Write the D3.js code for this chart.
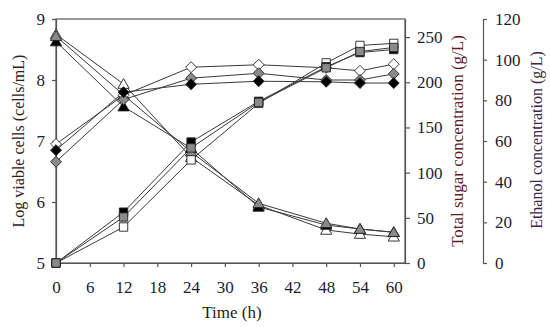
<!DOCTYPE html>
<html><head><meta charset="utf-8">
<script src="https://cdn.jsdelivr.net/npm/d3@7"></script>
<style>body{margin:0;background:#fff}svg{display:block}text{font-family:"Liberation Serif","Times New Roman",serif}</style>
</head><body><svg id="c" width="550" height="327"></svg>
<script>
const time = [0, 12, 24, 36, 48, 54, 60];
const xTicks = [0, 6, 12, 18, 24, 30, 36, 42, 48, 54, 60];
const leftTicks = [5, 6, 7, 8, 9];
const sugarTicks = [0, 50, 100, 150, 200, 250];
const ethanolTicks = [0, 20, 40, 60, 80, 100, 120];

// Log viable cells (diamonds)
const cellsBlack = [6.85, 7.80, 7.93, 7.98, 7.97, 7.95, 7.95];
const cellsGray  = [6.66, 7.68, 8.03, 8.11, 8.00, 8.00, 8.10];
const cellsWhite = [6.95, 7.75, 8.21, 8.25, 8.20, 8.15, 8.26];
// Total sugar (triangles)
const sugarBlack = [245, 173, 127, 62, 42, 37.6, 34];
const sugarGray  = [251, 186, 123, 66, 44, 37.6, 34];
const sugarWhite = [253, 198, 117, 64, 36.5, 32, 29];
// Ethanol (squares)
const ethBlack = [0, 25, 59.5, 79.5, 96.5, 103.5, 105];
const ethGray  = [0, 22.6, 56.6, 79, 96, 104, 106];
const ethWhite = [0, 17.7, 50.7, 78.5, 98.4, 107, 108];

const svg = d3.select("#c");
const L = 56, R = 405, T = 19, B = 263;
const x = d3.scaleLinear().domain([0, 62]).range([L, R]);
const yL = d3.scaleLinear().domain([5, 9]).range([B, T]);
const yS = d3.scaleLinear().domain([0, 270]).range([B, T]);
const yE = d3.scaleLinear().domain([0, 120]).range([B, T]);

const tickCol = "#1c1c34";
function styleAxis(g){
  g.selectAll("path").attr("stroke","#555").attr("stroke-width",1.2);
  g.selectAll("line").attr("stroke","#555").attr("stroke-width",1.2);
  g.selectAll("text").attr("font-size",17).attr("fill",tickCol);
}
svg.append("rect").attr("x",L).attr("y",T).attr("width",R-L).attr("height",B-T)
  .attr("fill","none").attr("stroke","#555").attr("stroke-width",1.2);

const fmt = d3.format("d");
svg.append("g").attr("transform",`translate(0,${B})`)
  .call(d3.axisBottom(x).tickValues(xTicks).tickFormat(fmt).tickSize(4).tickSizeOuter(0).tickPadding(14))
  .call(styleAxis);
svg.append("g").attr("transform",`translate(${L},0)`)
  .call(d3.axisLeft(yL).tickValues(leftTicks).tickFormat(fmt).tickSize(4).tickSizeOuter(0).tickPadding(7))
  .call(styleAxis);
svg.append("g").attr("transform",`translate(${R},0)`)
  .call(d3.axisRight(yS).tickValues(sugarTicks).tickFormat(fmt).tickSize(5).tickSizeOuter(0).tickPadding(7))
  .call(styleAxis);
svg.append("g").attr("transform",`translate(483,0)`)
  .call(d3.axisRight(yE).tickValues(ethanolTicks).tickFormat(fmt).tickSize(4).tickSizeOuter(0).tickPadding(8))
  .call(styleAxis);

svg.append("text").attr("x",232).attr("y",318).attr("text-anchor","middle")
  .attr("font-size",17).attr("fill","#2a1c10").text("Time (h)");
svg.append("text").attr("transform","translate(24,141) rotate(-90)").attr("text-anchor","middle")
  .attr("font-size",16).attr("fill","#2e2014").text("Log viable cells (cells/mL)");
svg.append("text").attr("transform","translate(463,141) rotate(-90)").attr("text-anchor","middle")
  .attr("font-size",17).attr("fill","#5e1c1c").text("Total sugar concentration (g/L)");
svg.append("text").attr("transform","translate(542,140) rotate(-90)").attr("text-anchor","middle")
  .attr("font-size",16).attr("fill","#40244a").text("Ethanol concentration (g/L)");

const diamond = { draw(ctx, size){ const r = Math.sqrt(size/2); ctx.moveTo(0,-r); ctx.lineTo(r,0); ctx.lineTo(0,r); ctx.lineTo(-r,0); ctx.closePath(); } };
const fills = {black:"#000", gray:"#8a8a8a", white:"#fff"};
const series = [
  {vals: sugarWhite, y: yS, shape: d3.symbolTriangle, size: 55, fill: fills.white},
  {vals: sugarBlack, y: yS, shape: d3.symbolTriangle, size: 55, fill: fills.black},
  {vals: sugarGray,  y: yS, shape: d3.symbolTriangle, size: 55, fill: fills.gray},
  {vals: cellsWhite, y: yL, shape: diamond, size: 60, fill: fills.white},
  {vals: cellsGray,  y: yL, shape: diamond, size: 60, fill: fills.gray},
  {vals: cellsBlack, y: yL, shape: diamond, size: 60, fill: fills.black},
  {vals: ethWhite,   y: yE, shape: d3.symbolSquare, size: 70, fill: fills.white},
  {vals: ethBlack,   y: yE, shape: d3.symbolSquare, size: 70, fill: fills.black},
  {vals: ethGray,    y: yE, shape: d3.symbolSquare, size: 70, fill: fills.gray}
];
const lg = svg.append("g");
series.forEach(s => {
  const line = d3.line().x((d,i)=>x(time[i])).y(d=>s.y(d));
  lg.append("path").datum(s.vals).attr("d",line).attr("fill","none")
    .attr("stroke","#3a3a3a").attr("stroke-width",1);
});
const mg = svg.append("g");
series.forEach(s => {
  mg.selectAll(null).data(s.vals).enter().append("path")
    .attr("transform",(d,i)=>`translate(${x(time[i])},${s.y(d) + (s.shape===d3.symbolTriangle?1:0)})`)
    .attr("d", d3.symbol().type(s.shape).size(s.size))
    .attr("fill", s.fill).attr("stroke","#222").attr("stroke-width",0.9);
});
</script></body></html>
